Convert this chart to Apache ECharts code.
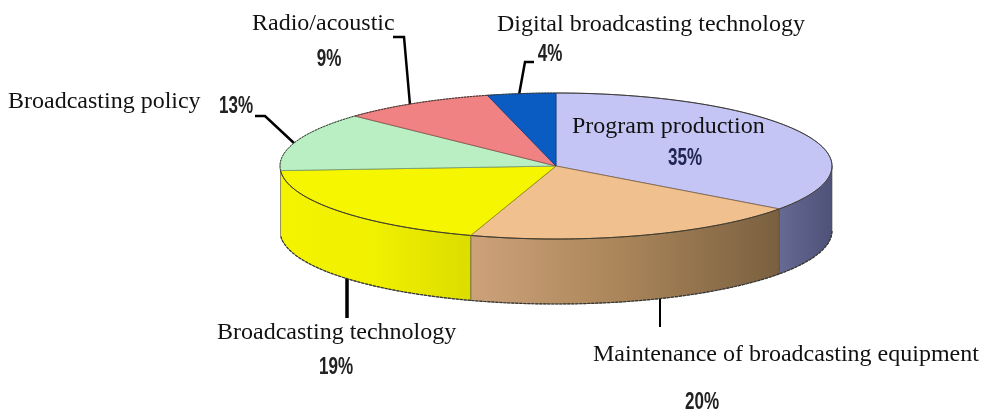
<!DOCTYPE html>
<html>
<head>
<meta charset="utf-8">
<style>html,body{margin:0;padding:0;background:#fff}#chart{width:981px;height:415px}</style>
<script src="https://cdn.jsdelivr.net/npm/echarts@6/dist/echarts.min.js"></script>
</head>
<body>
<div id="chart"></div>
<script>
// Training course subjects, clockwise from twelve o'clock
const categories = ['Program production', 'Maintenance of broadcasting equipment', 'Broadcasting technology', 'Broadcasting policy', 'Radio/acoustic', 'Digital broadcasting technology'];
const shares = [35, 20, 19, 13, 9, 4];

const topColors = ['#c4c4f5', '#f0c08f', '#f6f600', '#b9efc3', '#f08283', '#0b5cc2'];
const edgeColors = ['#6f6d90', '#7d5f3d', '#8c8a10', '#6f9a78', '#8a4b4b', '#083c80'];
const sideStops = [
  ['#666a94', '#4e5278'],
  ['#cda27a', '#a98459', '#7a6040'],
  ['#f4f400', '#f0f000', '#dcdc00'],
  null, null, null
];

// Category name placement: [left x, centre y]
const namePos = [[572, 127], [593, 355], [217, 333], [8, 102], [252, 24], [497, 25]];
// Percentage placement: [centre x, centre y]
const pctPos = [[685, 158], [702, 402], [336, 367], [236, 106], [329, 59], [550, 54]];
// Leader lines, one polyline per category
const leaders = [
  null,
  { w: 2, pts: [[660, 297], [660, 327]] },
  { w: 3.5, pts: [[347, 278], [347, 318]] },
  { w: 2.5, pts: [[255, 116], [265, 116], [295, 144]] },
  { w: 2.5, pts: [[393, 37], [404, 37], [410, 105]] },
  { w: 2.5, pts: [[534, 62], [525, 62], [519, 95]] }
];

// Projected disc geometry
const CX = 556, CY = 166, RX = 276, RY = 73, DEPTH = 65;
const total = shares.reduce((a, b) => a + b, 0);
const proj = (deg, dy) => {
  const t = deg * Math.PI / 180;
  return [CX + RX * Math.sin(t), CY - RY * Math.cos(t) + (dy || 0)];
};
const arc = (a, b, dy) => {
  const n = Math.max(2, Math.ceil(Math.abs(b - a) / 1.5));
  const out = [];
  for (let i = 0; i <= n; i++) out.push(proj(a + (b - a) * i / n, dy));
  return out;
};

const starts = [];
shares.reduce((acc, v, i) => { starts[i] = acc; return acc + v; }, 0);

function renderSlice(params, api) {
  const i = params.dataIndex;
  const a0 = starts[i] / total * 360;
  const a1 = (starts[i] + api.value(1)) / total * 360;
  const children = [];
  // visible wall: the part of the rim on the near half of the disc
  const s0 = Math.max(a0, 90), s1 = Math.min(a1, 270);
  if (s1 > s0 && sideStops[i]) {
    const stops = sideStops[i];
    const pts = arc(s0, s1, 0).concat(arc(s1, s0, DEPTH));
    children.push({
      type: 'polygon',
      shape: { points: pts },
      style: {
        fill: new echarts.graphic.LinearGradient(0, 0, 1, 0,
          stops.map((c, k) => ({ offset: k / (stops.length - 1), color: c }))),
        stroke: '#4a4a3a', lineWidth: 0.6
      }
    });
    children.push({
      type: 'polyline',
      shape: { points: arc(s0, s1, DEPTH) },
      style: { fill: 'none', stroke: '#333', lineWidth: 1.2, lineDash: [3, 1] }
    });
  }
  // top face
  children.push({
    type: 'polygon',
    shape: { points: [[CX, CY]].concat(arc(a0, a1, 0)) },
    style: { fill: topColors[i], stroke: edgeColors[i], lineWidth: 0.8 }
  });
  // rim line, speckled along the far half
  children.push({
    type: 'polyline',
    shape: { points: arc(a0, a1, 0) },
    style: {
      fill: 'none',
      stroke: '#3c3a30',
      lineWidth: 1,
      lineDash: (a0 + a1) / 2 > 270 || (a0 + a1) / 2 < 60 ? [2, 1] : null
    }
  });
  return { type: 'group', children };
}

const textItems = [];
categories.forEach((name, i) => {
  textItems.push({
    type: 'text', x: namePos[i][0], y: namePos[i][1], z: 20,
    style: { text: name, fill: '#111', font: '24px "Liberation Serif"', textAlign: 'left', textVerticalAlign: 'middle' }
  });
  textItems.push({
    type: 'text', x: pctPos[i][0], y: pctPos[i][1], z: 20, scaleX: 0.71,
    style: {
      text: shares[i] + '%', fill: i === 0 ? '#20264f' : '#222',
      font: 'bold 24px "Liberation Sans"', textAlign: 'center', textVerticalAlign: 'middle'
    }
  });
  if (leaders[i]) {
    textItems.push({
      type: 'polyline', z: 1,
      shape: { points: leaders[i].pts },
      style: { fill: 'none', stroke: '#000', lineWidth: leaders[i].w }
    });
  }
});

const chart = echarts.init(document.getElementById('chart'), null, { renderer: 'canvas' });
chart.setOption({
  animation: false,
  backgroundColor: '#fff',
  graphic: { elements: textItems },
  series: [{
    type: 'custom',
    coordinateSystem: 'none',
    silent: true,
    z: 5,
    renderItem: renderSlice,
    data: categories.map((c, i) => ({ name: c, value: [i, shares[i]] }))
  }]
});
</script>
</body>
</html>
